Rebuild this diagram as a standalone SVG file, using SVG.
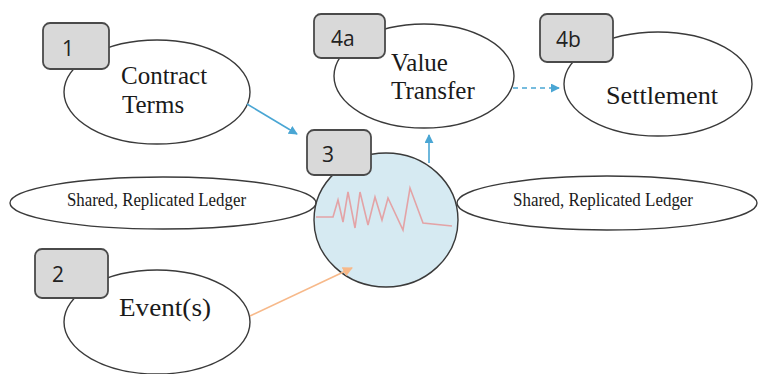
<svg xmlns="http://www.w3.org/2000/svg" width="758" height="374" viewBox="0 0 758 374">
<style>
.ell{fill:#fff;stroke:#3a3a3a;stroke-width:1.4}
.box{fill:#d9d9d9;stroke:#4a4a4a;stroke-width:1.8}
.num{font-family:"Open Sans","Noto Sans",sans-serif;font-size:21px;fill:#222}
.lbl{font-family:"Liberation Serif","Times New Roman",serif;font-size:25px;fill:#1a1a1a}
.led{font-family:"Liberation Serif","Times New Roman",serif;font-size:19px;fill:#1a1a1a}
</style>
<defs>
<marker id="ab" viewBox="0 0 10 10" refX="9" refY="5" markerWidth="9" markerHeight="9" markerUnits="userSpaceOnUse" orient="auto"><path d="M0,0 L10,5 L0,10 z" fill="#4aa6d4"/></marker>
<marker id="ao" viewBox="0 0 10 10" refX="9" refY="5" markerWidth="10" markerHeight="10" markerUnits="userSpaceOnUse" orient="auto"><path d="M0,0 L10,5 L0,10 z" fill="#f7b98a"/></marker>
</defs>
<g id="ledger-left"><ellipse class="ell" cx="163" cy="203" rx="153" ry="26"/><text class="led" x="67" y="206" textLength="179" lengthAdjust="spacingAndGlyphs">Shared, Replicated Ledger</text></g>
<g id="ledger-right"><ellipse class="ell" cx="607" cy="203" rx="150" ry="27"/><text class="led" x="513" y="206" textLength="180" lengthAdjust="spacingAndGlyphs">Shared, Replicated Ledger</text></g>
<g id="node1"><ellipse class="ell" cx="157" cy="92" rx="93" ry="52"/><rect class="box" x="43" y="23" width="66" height="46" rx="7"/><text class="num" x="62" y="56">1</text><text class="lbl" x="121" y="84">Contract</text><text class="lbl" x="122" y="113">Terms</text></g>
<g id="node2"><ellipse class="ell" cx="157" cy="322" rx="93" ry="52"/><rect class="box" x="35" y="249" width="73" height="49" rx="7"/><text class="num" x="52" y="282">2</text><text class="lbl" x="119" y="316" textLength="92" lengthAdjust="spacingAndGlyphs">Event(s)</text></g>
<g id="node4a"><ellipse class="ell" cx="424" cy="76" rx="90" ry="52"/><rect class="box" x="314" y="14" width="71" height="44" rx="7"/><text class="num" x="331" y="46">4a</text><text class="lbl" x="391" y="71">Value</text><text class="lbl" x="391" y="99">Transfer</text></g>
<g id="node4b"><ellipse class="ell" cx="658" cy="84" rx="94" ry="52"/><rect class="box" x="540" y="14" width="73" height="48" rx="7"/><text class="num" x="556" y="47">4b</text><text class="lbl" x="606" y="104" textLength="112" lengthAdjust="spacingAndGlyphs">Settlement</text></g>
<g id="node3"><ellipse cx="386" cy="220" rx="72" ry="67" fill="#d6eaf2" stroke="#3a3a3a" stroke-width="1.4"/><polyline points="316,217 333,217 338,200 343,222 348,192 355,228 360,192 368,225 375,197 382,220 388,198 403,230 410,188 423,223 452,226" fill="none" stroke="#e3a3a6" stroke-width="1.6"/><rect class="box" x="307" y="130" width="64" height="45" rx="7"/><text class="num" x="322" y="162">3</text></g>
<g id="connectors">
<line x1="247" y1="104" x2="297" y2="134" stroke="#4aa6d4" stroke-width="1.6" marker-end="url(#ab)"/>
<line x1="429" y1="163" x2="429" y2="135" stroke="#4aa6d4" stroke-width="1.6" marker-end="url(#ab)"/>
<line x1="513" y1="88" x2="559" y2="88" stroke="#4aa6d4" stroke-width="1.6" stroke-dasharray="5,4" marker-end="url(#ab)"/>
<line x1="250" y1="316" x2="352" y2="268" stroke="#f7b98a" stroke-width="1.6" marker-end="url(#ao)"/>
</g>
</svg>
